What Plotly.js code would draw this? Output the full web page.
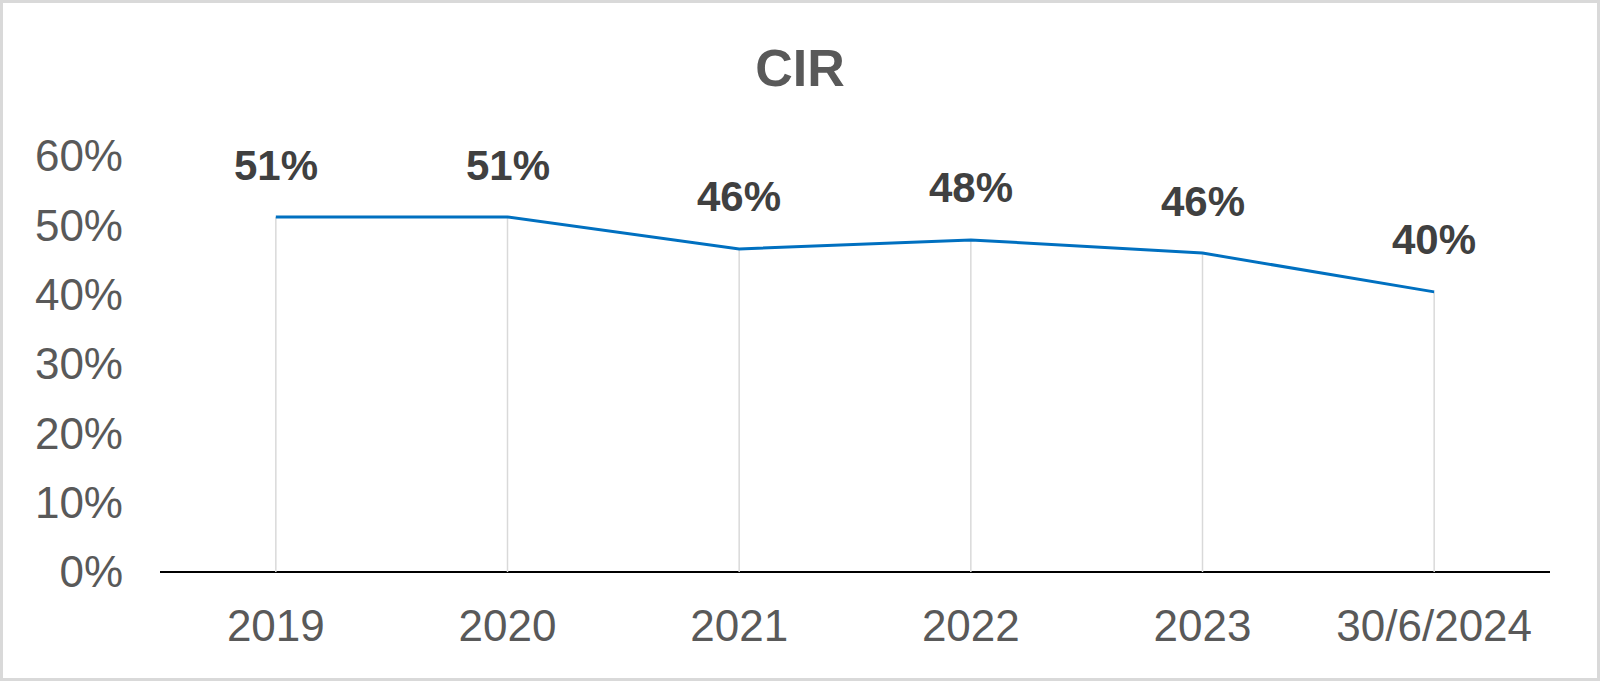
<!DOCTYPE html>
<html>
<head>
<meta charset="utf-8">
<script src="https://cdn.plot.ly/plotly-3.0.1.min.js"></script>
<style>
  html, body { margin: 0; padding: 0; background: #ffffff; }
  #wrap { position: relative; width: 1600px; height: 681px; }
  #chart { position: absolute; left: 0; top: 0; width: 1600px; height: 681px; }
  #frame { position: absolute; left: 0; top: 0; width: 1600px; height: 681px;
           box-sizing: border-box; border: 3px solid #d9d9d9; pointer-events: none; }
</style>
</head>
<body>
<div id="wrap">
  <div id="chart"></div>
  <div id="frame"></div>
</div>
<script>
const categories = ["2019", "2020", "2021", "2022", "2023", "30/6/2024"];
const cirValues = [0.512, 0.512, 0.466, 0.479, 0.460, 0.404];
const cirLabels = ["51%", "51%", "46%", "48%", "46%", "40%"];
const yTickValues = [0, 0.1, 0.2, 0.3, 0.4, 0.5, 0.6];
const yTickLabels = ["0%", "10%", "20%", "30%", "40%", "50%", "60%"];

const FONT = "Liberation Sans, Arial, sans-serif";

const trace = {
  type: "scatter",
  mode: "lines",
  x: categories,
  y: cirValues,
  line: { color: "#0070C0", width: 3 },
  error_y: {
    type: "data",
    symmetric: false,
    array: cirValues.map(() => 0),
    arrayminus: cirValues,
    color: "#d9d9d9",
    thickness: 1.5,
    width: 0
  },
  hoverinfo: "skip",
  showlegend: false
};

// category axis: position annotations by category index
const annotations = categories.map((c, i) => ({
  x: i,
  y: cirValues[i],
  xref: "x",
  yref: "y",
  text: cirLabels[i],
  showarrow: false,
  yshift: 52,
  xanchor: "center",
  yanchor: "middle",
  font: { family: FONT, size: 42, color: "#404040", weight: "bold" }
}));

const layout = {
  width: 1600,
  height: 681,
  margin: { l: 160, r: 50, t: 156, b: 108.5 },
  paper_bgcolor: "#ffffff",
  plot_bgcolor: "#ffffff",
  title: {
    text: "<b>CIR</b>",
    x: 0.5,
    xref: "container",
    xanchor: "center",
    y: 1 - 68 / 681,
    yref: "container",
    yanchor: "middle",
    font: { family: FONT, size: 52, color: "#595959" }
  },
  xaxis: {
    type: "category",
    categoryorder: "array",
    categoryarray: categories,
    range: [-0.5, 5.5],
    showgrid: false,
    zeroline: false,
    showline: false,
    ticks: "",
    ticklabelstandoff: 24,
    tickfont: { family: FONT, size: 44, color: "#595959" },
    fixedrange: true
  },
  yaxis: {
    range: [0, 0.6],
    tickvals: yTickValues,
    ticktext: yTickLabels,
    showgrid: false,
    zeroline: true,
    zerolinecolor: "#000000",
    zerolinewidth: 2.5,
    showline: false,
    ticks: "",
    ticklabelstandoff: 36,
    tickfont: { family: FONT, size: 44, color: "#595959" },
    fixedrange: true
  },
  annotations: annotations
};

Plotly.newPlot("chart", [trace], layout, { displayModeBar: false, staticPlot: true });
</script>
</body>
</html>
